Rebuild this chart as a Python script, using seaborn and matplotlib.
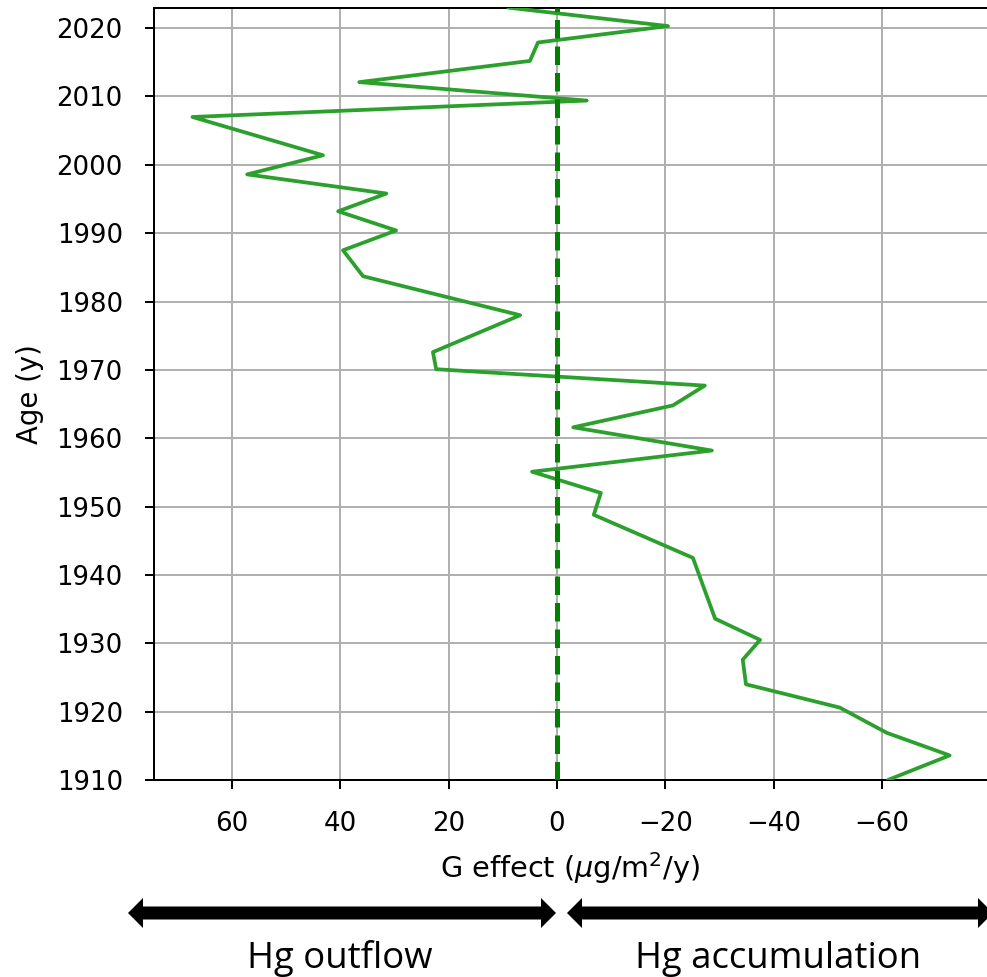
import matplotlib
matplotlib.use('Agg')
import matplotlib.pyplot as plt
import matplotlib.patches as mpatches
import seaborn as sns
import pandas as pd

# G effect profile
years = [2023.0, 2020.3, 2017.9, 2015.2, 2012.1, 2009.4, 2007.0, 2001.4, 1998.6,
         1995.8, 1993.2, 1990.4, 1987.5, 1983.7, 1978.0, 1972.6, 1970.1, 1967.7,
         1964.8, 1961.6, 1958.2, 1955.1, 1952.0, 1948.8, 1942.5, 1933.6, 1930.5,
         1927.6, 1924.0, 1920.6, 1916.9, 1913.6, 1910.0]
g_effect = [9.0, -20.5, 3.5, 5.0, 36.5, -5.5, 67.3, 43.2, 57.2,
            31.5, 40.4, 29.7, 39.5, 35.8, 6.8, 22.9, 22.3, -27.3,
            -21.4, -3.0, -28.6, 4.6, -8.1, -6.8, -25.1, -29.2, -37.5,
            -34.3, -34.9, -52.2, -60.9, -72.5, -61.1]
x_ticks = [60, 40, 20, 0, -20, -40, -60]
y_ticks = list(range(1910, 2021, 10))
side_labels = ['Hg outflow', 'Hg accumulation']

df = pd.DataFrame({'G effect': g_effect, 'Age': years})

W, H, DPI = 987, 977, 180
sns.set_style('ticks')
plt.rcParams['font.family'] = ['DejaVu Sans']

fig = plt.figure(figsize=(W / DPI, H / DPI), dpi=DPI)
ax = fig.add_axes([154 / W, 1 - 780 / H, 1 - 154 / W, (780 - 8.3) / H])

ax.grid(True, color='#b0b0b0', lw=0.8, zorder=0)
sns.lineplot(data=df, x='G effect', y='Age', sort=False, estimator=None,
             orient='y', color='#2ca02c', lw=1.5, ax=ax, zorder=3)
ax.axvline(0, color='g', ls='--', lw=2, zorder=4)

ax.set_xlim(74.4, -79.4)
ax.set_ylim(1910, 2022.9)
ax.set_xticks(x_ticks)
ax.set_yticks(y_ticks)
ax.set_xlabel('G effect ($\\mu$g/m$^2$/y)', color='black', fontsize=11.5, labelpad=5)
ax.set_ylabel('Age (y)', color='black', fontsize=11, labelpad=5)
ax.tick_params(colors='black', labelsize=10.4, length=3.5, pad=9)
for s in ax.spines.values():
    s.set_color('black')
    s.set_linewidth(0.8)
ax.spines['right'].set_visible(False)


# double headed arrows under the axis, positions in pixels from the top left
def double_arrow(x0, x1, y):
    xc = (x0 + x1) / 2
    for xe in (x0, x1):
        fig.add_artist(mpatches.FancyArrow(
            xc / W, 1 - y / H, (xe - xc) / W, 0,
            width=13 / H, head_width=30 / H, head_length=15 / W,
            length_includes_head=True, color='black', lw=0,
            transform=fig.transFigure))


double_arrow(128, 556, 913)
double_arrow(567, 993, 913)

fig.text(340 / W, 1 - 968 / H, side_labels[0], ha='center', va='baseline',
         family='Open Sans', fontsize=14.6, color='black')
fig.text(778 / W, 1 - 968 / H, side_labels[1], ha='center', va='baseline',
         family='Open Sans', fontsize=14.6, color='black')

fig.savefig('out.png', dpi=DPI)
